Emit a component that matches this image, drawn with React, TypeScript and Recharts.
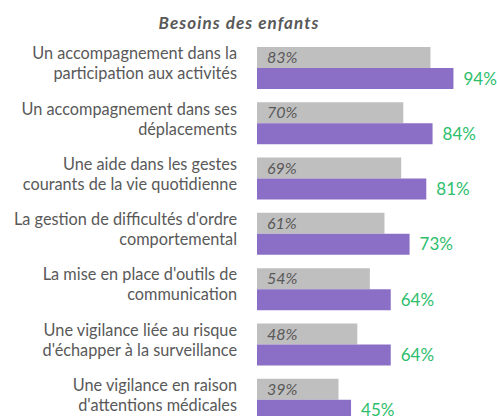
import React from 'react';
import { BarChart, Bar, XAxis, YAxis, LabelList } from 'recharts';

const labelLines: string[][] = [
  ['Un accompagnement dans la', 'participation aux activités'],
  ['Un accompagnement dans ses', 'déplacements'],
  ['Une aide dans les gestes', 'courants de la vie quotidienne'],
  ["La gestion de difficultés d'ordre", 'comportemental'],
  ["La mise en place d'outils de", 'communication'],
  ['Une vigilance liée au risque', "d'échapper à la surveillance"],
  ['Une vigilance en raison', "d'attentions médicales"],
];
const previousValues = [83, 70, 69, 61, 54, 48, 39];
const currentValues = [94, 84, 81, 73, 64, 64, 45];

const FONT = 'Lato, "Open Sans", sans-serif';

const data = labelLines.map((lines, i) => ({
  name: lines.join('\n'),
  previous: previousValues[i],
  current: currentValues[i],
}));

const CategoryTick = (props: any) => {
  const { x, y, payload } = props;
  const lines = String(payload.value).split('\n');
  return (
    <g>
      {lines.map((line, i) => (
        <text
          key={i}
          x={x - 12}
          y={y - 14 + i * 20}
          dy="0.35em"
          textAnchor="end"
          fill="#595959"
          fontSize={16.3}
          fontFamily={FONT}
        >
          {line}
        </text>
      ))}
    </g>
  );
};

const PreviousLabel = (props: any) => {
  const { x, y, height, value } = props;
  return (
    <text
      x={x + 10}
      y={y + height / 2}
      dy="0.35em"
      fill="#595959"
      fontSize={16}
      fontStyle="italic"
      fontFamily={FONT}
    >
      {`${value}%`}
    </text>
  );
};

const App = () => {
  return (
    <div style={{ position: 'absolute', top: 0, left: 0, width: 497, height: 416, overflow: 'hidden', background: '#fff' }}>
      <div
        style={{
          position: 'absolute',
          top: 12,
          left: 0,
          width: 478,
          textAlign: 'center',
          fontFamily: FONT,
          fontSize: 17,
          letterSpacing: 1.1,
          fontWeight: 700,
          fontStyle: 'italic',
          color: '#595959',
        }}
      >
        Besoins des enfants
      </div>
      <BarChart
        width={497}
        height={440}
        data={data}
        layout="vertical"
        margin={{ top: 40, right: 31, left: 0, bottom: 13 }}
        barGap={0}
      >
        <XAxis type="number" domain={[0, 100]} hide />
        <YAxis
          type="category"
          dataKey="name"
          width={257}
          axisLine={false}
          tickLine={false}
          tick={<CategoryTick />}
          interval={0}
        />
        <Bar dataKey="previous" fill="#BFBFBF" barSize={21} isAnimationActive={false}>
          <LabelList dataKey="previous" content={<PreviousLabel />} />
        </Bar>
        <Bar dataKey="current" fill="#8B6FC6" barSize={21} isAnimationActive={false}>
          <LabelList
            dataKey="current"
            position="right"
            offset={10}
            formatter={(v: any) => `${v}%`}
            fill="#2DBE6C"
            fontSize={17}
            fontFamily={FONT}
          />
        </Bar>
      </BarChart>
    </div>
  );
};

export default App;
